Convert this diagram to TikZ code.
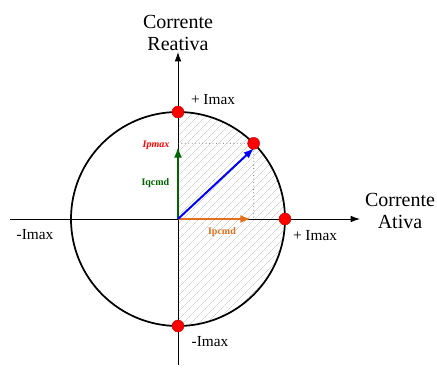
\documentclass[tikz,border=0pt]{standalone}
\usepackage{fontspec}
\setmainfont{Liberation Serif}
\usetikzlibrary{arrows.meta,patterns.meta}
\definecolor{verde}{RGB}{0,100,0}
\definecolor{laranja}{RGB}{228,112,28}
\begin{document}
\begin{tikzpicture}[x=0.75pt,y=0.75pt,
  eixo/.style={-{Latex[length=7pt,width=5pt]},black,line width=0.7pt},
  vetor/.style={-{Latex[length=8pt,width=6pt]},line width=1.5pt},
  ponto/.style={circle,fill=red,draw=red!70!black,line width=0.3pt,inner sep=0pt,minimum size=9pt},
  rotulo/.style={font=\fontsize{11.5}{13}\selectfont},
  titulo/.style={font=\fontsize{15}{17}\selectfont,align=center},
  cmd/.style={font=\fontsize{7.5}{9}\selectfont\bfseries}]
\useasboundingbox (-178,-164) rectangle (259,219);
\fill[pattern={Lines[angle=45,distance=4pt,line width=0.4pt]},pattern color=gray!35] (0,-107) arc (-90:90:107) -- cycle;
\coordinate (O) at (0,0);
\coordinate (xa) at (-168,0); \coordinate (xb) at (182,0);
\coordinate (ya) at (0,-146); \coordinate (yb) at (0,167);
\draw[eixo] (xa) -- (xb); \draw[eixo] (ya) -- (yb);
\draw[line width=1.3pt] (O) circle (107);
\coordinate (P) at (45:107); \coordinate (Pq) at (0,75.7); \coordinate (Pd) at (75.7,0);
\draw[gray!70!black,dotted,line width=0.6pt] (Pq) -- (P) -- (Pd);
\draw[vetor,verde] (O) -- (0,72);
\draw[vetor,laranja] (O) -- (73,0);
\draw[vetor,blue] (O) -- (43:104);
\foreach \n/\p in {top/90,dir/0,bai/-90}{\node[ponto] (d\n) at (\p:107) {};}
\node[ponto] (dP) at (P) {};
\node[titulo] (reat) at (0,186) {Corrente\\Reativa};
\node[titulo] (ativ) at (222,8) {Corrente\\Ativa};
\node[rotulo] (ptop) at (35,119) {+ Imax};
\node[rotulo] (pdir) at (137,-17) {+ Imax};
\node[rotulo] (nesq) at (-143,-16) {-Imax};
\node[rotulo] (nbai) at (32,-123) {-Imax};
\node[cmd,red,left,font=\fontsize{7.5}{9}\selectfont\bfseries\itshape] (ipm) at (-4,74) {Ipmax};
\node[cmd,verde,left] (iq) at (-4,36) {Iqcmd};
\node[cmd,laranja] (ip) at (44,-13) {Ipcmd};
\end{tikzpicture}
\end{document}
